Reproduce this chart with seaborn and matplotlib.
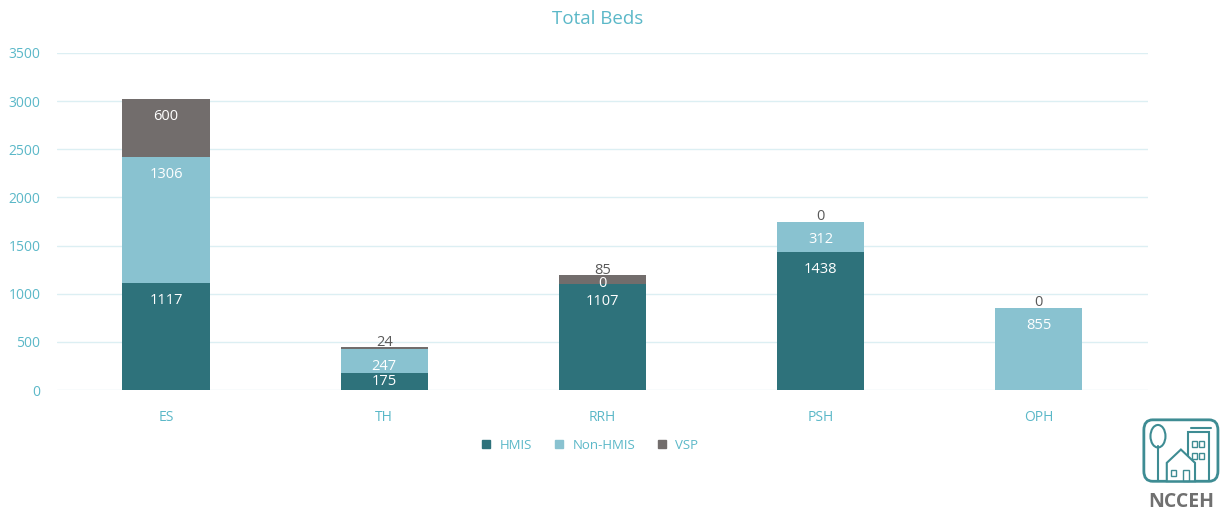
import numpy as np
import pandas as pd
import seaborn as sns
import matplotlib.pyplot as plt
from matplotlib.patches import FancyBboxPatch, Rectangle, Polygon, Ellipse
from matplotlib.lines import Line2D

categories = ["ES", "TH", "RRH", "PSH", "OPH"]
hmis = [1117, 175, 1107, 1438, np.nan]
non_hmis = [1306, 247, 0, 312, 855]
vsp = [600, 24, 85, 0, 0]
y_ticks = [0, 500, 1000, 1500, 2000, 2500, 3000, 3500]

series_names = ["HMIS", "Non-HMIS", "VSP"]
colores = ["#2E727B", "#89C2D0", "#726D6C"]
teal_txt = "#5BB8C8"

sns.set_style("white")
plt.rcParams["font.family"] = ["Open Sans", "DejaVu Sans"]

fig = plt.figure(figsize=(12.25, 5.12), dpi=100)
ax = fig.add_axes([0.0465, 0.238, 0.8905, 0.6585])

df = pd.DataFrame({"cat": categories, "HMIS": hmis, "Non-HMIS": non_hmis, "VSP": vsp})
base = np.zeros(len(categories))
px_per_unit = (0.6585 * 512) / 3500
pt = 0.72  # points per pixel at 100 dpi

for i, (nombre, color) in enumerate(zip(series_names, colores)):
    vals = df[nombre].fillna(0).to_numpy(dtype=float)
    sns.barplot(x=df["cat"], y=vals, bottom=base, color=color, width=0.4,
                saturation=1, ax=ax, linewidth=0)
    for j, v in enumerate(df[nombre]):
        if pd.isna(v):
            continue
        top = base[j] + v
        h_px = v * px_per_unit
        if h_px >= 23:
            off, col = -17.5, "white"
        elif h_px >= 12:
            off, col = -h_px / 2, "white"
        elif i == len(series_names) - 1:
            off, col = 5, "#595959"
        else:
            off, col = 0, "white"
        ax.annotate(f"{int(v)}", (j, top), xytext=(0, off * pt), textcoords="offset points",
                    ha="center", va="center", color=col, fontsize=10.5)
    base = base + vals

ax.set_ylim(0, 3500)
ax.set_xlim(-0.5, 4.5)
ax.set_yticks(y_ticks)
ax.set_yticklabels([str(t) for t in y_ticks])
ax.yaxis.grid(True, color="#DCEFF3", linewidth=1)
ax.set_axisbelow(True)
for s in ax.spines.values():
    s.set_visible(False)
ax.tick_params(axis="both", length=0, colors=teal_txt, labelsize=10)
ax.tick_params(axis="y", pad=12)
ax.tick_params(axis="x", pad=14)
ax.set_xlabel("")
ax.set_ylabel("")

fig.text(0.488, 0.963, "Total Beds", ha="center", va="center", fontsize=13.5, color=teal_txt)

handles = [Line2D([0], [0], marker="s", linestyle="", markersize=6,
                  markerfacecolor=c, markeredgecolor=c) for c in colores]
leg = fig.legend(handles, series_names, loc="center", bbox_to_anchor=(0.478, 0.13),
                 ncol=3, frameon=False, fontsize=9.5, handletextpad=0.05, columnspacing=1.0)
for t in leg.get_texts():
    t.set_color(teal_txt)

# NCCEH logo
logo = fig.add_axes([0.928, 0.0, 0.072, 0.2])
logo.set_xlim(0, 100)
logo.set_ylim(0, 100)
logo.axis("off")
lc = "#3E8C93"
logo.add_patch(FancyBboxPatch((8, 30), 84, 60, boxstyle="round,pad=0,rounding_size=10",
                              fill=False, edgecolor=lc, linewidth=2))
logo.add_patch(Rectangle((58, 30), 24, 48, fill=False, edgecolor=lc, linewidth=1.5))
logo.plot([62, 84], [82, 82], color=lc, linewidth=1.5)
for wx in (63, 71):
    for wy in (63, 52):
        logo.add_patch(Rectangle((wx, wy), 5, 6, fill=False, edgecolor=lc, linewidth=1))
logo.add_patch(Polygon([(34, 30), (34, 48), (50, 61), (66, 48), (66, 30)], closed=True,
                       fill=True, facecolor="white", edgecolor=lc, linewidth=1.5))
logo.add_patch(Rectangle((39, 35), 6, 6, fill=False, edgecolor=lc, linewidth=1))
logo.add_patch(Rectangle((52, 30), 7, 11, fill=False, edgecolor=lc, linewidth=1))
logo.plot([24, 24], [30, 64], color=lc, linewidth=1.5)
logo.add_patch(Ellipse((24, 74), 17, 22, fill=False, edgecolor=lc, linewidth=1.5))
logo.text(50, 10, "NCCEH", ha="center", va="center", fontsize=14, fontweight="bold", color="#707070")

fig.savefig("out.png", dpi=100, facecolor="white")
